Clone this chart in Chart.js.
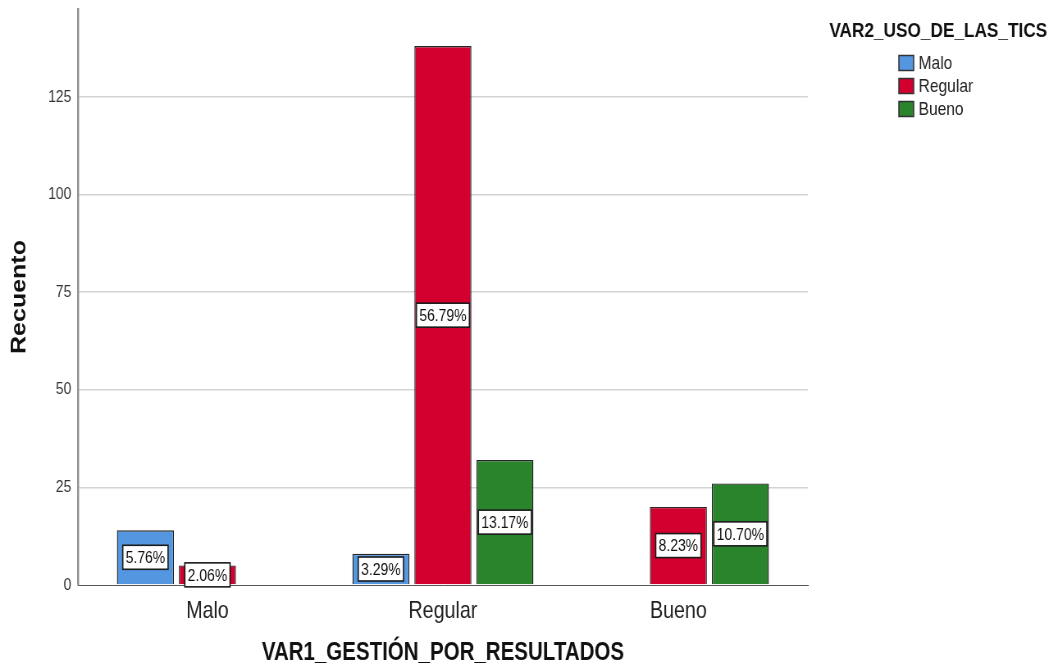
<!DOCTYPE html>
<html>
<head>
<meta charset="utf-8">
<title>Recuento por VAR1 y VAR2</title>
<script src="https://cdn.jsdelivr.net/npm/chart.js@4.4.1/dist/chart.umd.min.js"></script>
<style>
  html, body { margin: 0; padding: 0; background: #fff; }
</style>
</head>
<body>
<!-- SPSS export was squeezed horizontally, so draw wide and show it at 1058px -->
<canvas id="chart" width="1290" height="668" style="width:1058px;height:668px"></canvas>
<script>
const categories = ["Malo", "Regular", "Bueno"];
const seriesNames = ["Malo", "Regular", "Bueno"];
const seriesColors = ["#5496e0", "#d3002f", "#2a842c"];
const malo = [14, 8, null];
const regular = [5, 138, 20];
const bueno = [null, 32, 26];
const yTicks = [0, 25, 50, 75, 100, 125];

const FONT = "'Liberation Sans', Arial, sans-serif";
const series = [malo, regular, bueno];
const grandTotal = series.flat().reduce((s, v) => s + (v || 0), 0);

// white boxes with the % of total in the middle of each bar
const barLabels = {
  id: "barLabels",
  afterDatasetsDraw(chart) {
    const c = chart.ctx;
    c.save();
    c.font = `17px ${FONT}`;
    c.textAlign = "center";
    c.textBaseline = "middle";
    series.forEach((vals, i) => {
      chart.getDatasetMeta(i).data.forEach((bar, j) => {
        const v = vals[j];
        if (v == null) return;
        const text = (v / grandTotal * 100).toFixed(2) + "%";
        const w = c.measureText(text).width + 7;
        const h = 24;
        const cx = bar.x;
        const cy = (bar.y + bar.base) / 2;
        c.fillStyle = "#fff";
        c.fillRect(cx - w / 2, cy - h / 2, w, h);
        c.strokeStyle = "#1a1a1a";
        c.lineWidth = 1.6;
        c.strokeRect(cx - w / 2, cy - h / 2, w, h);
        c.fillStyle = "#111";
        c.fillText(text, cx, cy + 1);
      });
    });
    c.restore();
  }
};

// legend on the right, SPSS style (title centred above the swatches)
const sideLegend = {
  id: "sideLegend",
  afterDraw(chart) {
    const c = chart.ctx;
    const left = chart.chartArea.right;
    c.save();
    c.fillStyle = "#111";
    c.font = `bold 21px ${FONT}`;
    c.textAlign = "center";
    c.textBaseline = "middle";
    c.fillText("VAR2_USO_DE_LAS_TICS", left + 159, 31);

    c.font = `19px ${FONT}`;
    c.textAlign = "left";
    chart.data.datasets.forEach((ds, i) => {
      const y = 63 + i * 23;
      c.fillStyle = ds.backgroundColor;
      c.fillRect(left + 111, y - 7.5, 18, 15);
      c.strokeStyle = "#333";
      c.lineWidth = 1.5;
      c.strokeRect(left + 111, y - 7.5, 18, 15);
      c.fillStyle = "#222";
      c.fillText(ds.label, left + 135, y + 1);
    });
    c.restore();
  }
};

const datasets = series.map((vals, i) => ({
  label: seriesNames[i],
  data: vals.map((v, j) => ({ x: j, y: v })),
  backgroundColor: seriesColors[i],
  borderColor: "#262626",
  borderWidth: 1.4,
  categoryPercentage: 0.79,
  barPercentage: 0.92
}));

new Chart(document.getElementById("chart"), {
  type: "bar",
  data: { datasets },
  plugins: [barLabels, sideLegend],
  options: {
    responsive: false,
    animation: false,
    devicePixelRatio: 1,
    layout: { padding: { top: 9, right: 305, left: 0, bottom: 0 } },
    plugins: {
      legend: { display: false },
      tooltip: { enabled: false }
    },
    scales: {
      x: {
        type: "linear",
        offset: false,
        min: -0.55,
        max: 2.55,
        afterBuildTicks: (scale) => { scale.ticks = categories.map((c, i) => ({ value: i })); },
        afterFit: (scale) => { scale.height = 83; scale.paddingLeft = 0; scale.paddingRight = 0; },
        grid: { display: false, drawTicks: false },
        border: { display: true, color: "#555", width: 1 },
        ticks: {
          callback: (v) => categories[v],
          font: { family: FONT, size: 24 },
          color: "#222",
          padding: 12,
          autoSkip: false,
          maxRotation: 0
        },
        title: {
          display: true,
          text: "VAR1_GESTIÓN_POR_RESULTADOS",
          font: { family: FONT, size: 25, weight: "bold" },
          color: "#111",
          padding: { top: 0, bottom: 0 }
        }
      },
      y: {
        min: 0,
        max: 147.5,
        afterBuildTicks: (scale) => { scale.ticks = yTicks.map(v => ({ value: v })); },
        afterFit: (scale) => { scale.width = 95; scale.paddingTop = 0; scale.paddingBottom = 0; },
        grid: {
          color: (ctx) => ctx.tick && ctx.tick.value === 0 ? "rgba(0,0,0,0)" : "#d4d4d4",
          lineWidth: 1.5,
          drawTicks: false
        },
        border: { color: "#8f8f8f", width: 2.4 },
        ticks: { font: { family: FONT, size: 17 }, color: "#333", padding: 8 },
        title: {
          display: true,
          text: "Recuento",
          font: { family: FONT, size: 25, weight: "bold" },
          color: "#111",
          padding: { top: 9, bottom: 0 }
        }
      }
    }
  }
});
</script>
</body>
</html>
